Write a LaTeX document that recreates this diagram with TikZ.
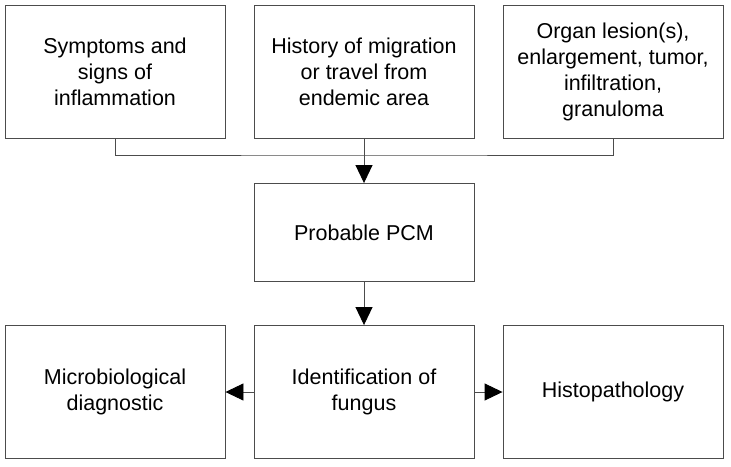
\documentclass[tikz,border=0pt]{standalone}
\usepackage{fontspec}
\setmainfont{Liberation Sans}
\usetikzlibrary{arrows.meta}
\begin{document}
\begin{tikzpicture}[x=1pt,y=-1pt,
  box/.style={draw=black!70, line width=0.9pt, minimum width=220pt, minimum height=133pt, inner sep=0pt, align=center, font=\fontsize{21.5}{26}\selectfont, text=black},
  midbox/.style={box, minimum height=98pt},
  conn/.style={draw=black!70, line width=0.9pt},
  arr/.style={conn, -{Triangle[length=18pt,width=17pt,color=black]}}]
\useasboundingbox (0,0) rectangle (731,466);
\node[box] (sym) at (115,71.5) {Symptoms and\\signs of\\inflammation};
\node[box] (hist) at (364,71.5) {History of migration\\or travel from\\endemic area};
\node[box] (org) at (613,71.5) {Organ lesion(s),\\enlargement, tumor,\\infiltration,\\granuloma};
\node[midbox] (pcm) at (364,232.5) {Probable PCM};
\node[box] (micro) at (115,392) {Microbiological\\diagnostic};
\node[box] (ident) at (364,392) {Identification of\\fungus};
\node[box] (histo) at (613,392) {Histopathology};
\coordinate (j) at (364,155);
\draw[conn] (sym.south) |- (j) -| (org.south);
\draw[conn] (hist.south) -- (j);
\draw[arr] (j) -- (pcm.north);
\draw[arr] (pcm.south) -- (ident.north);
\draw[arr] (ident.west) -- (micro.east);
\draw[arr] (ident.east) -- (histo.west);
\end{tikzpicture}
\end{document}
